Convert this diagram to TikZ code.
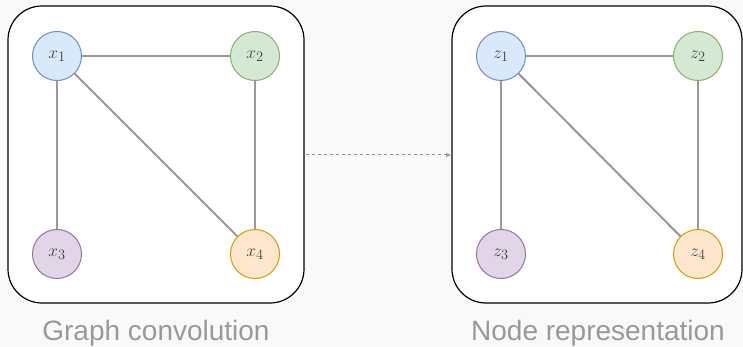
\documentclass[tikz,border=0pt]{standalone}
\usepackage{fontspec}
\setsansfont{Liberation Sans}
\usetikzlibrary{arrows.meta}
\definecolor{bgcol}{HTML}{F9F9F9}
\definecolor{edgecol}{HTML}{999999}
\definecolor{capcol}{HTML}{999999}
\definecolor{bluef}{HTML}{DAE8FC}\definecolor{blued}{HTML}{6C8EBF}
\definecolor{greenf}{HTML}{D5E8D4}\definecolor{greend}{HTML}{82B366}
\definecolor{purplef}{HTML}{E1D5E7}\definecolor{purpled}{HTML}{9673A6}
\definecolor{orangef}{HTML}{FFE6CC}\definecolor{oranged}{HTML}{D79B00}
\tikzset{
  panel/.style={draw=black, line width=1.2pt, fill=white, rounded corners=34pt},
  vtx/.style={circle, minimum size=49pt, inner sep=0pt, line width=1pt, font=\fontsize{19}{19}\selectfont, text=black!75},
  vblue/.style={vtx, fill=bluef, draw=blued},
  vgreen/.style={vtx, fill=greenf, draw=greend},
  vpurple/.style={vtx, fill=purplef, draw=purpled},
  vorange/.style={vtx, fill=orangef, draw=oranged},
  link/.style={draw=edgecol, line width=2pt},
  caption/.style={font=\sffamily\fontsize{28}{28}\selectfont, text=capcol, anchor=base},
  flow/.style={draw=edgecol, line width=1pt, dashed, dash pattern=on 3pt off 3pt, -{Triangle[length=5pt,width=4pt]}}
}
\begin{document}
\begin{tikzpicture}[x=1pt,y=-1pt]
  \fill[bgcol] (0,0) rectangle (743,347);
  \useasboundingbox (0,0) rectangle (743,347);
  % panels
  \draw[panel] (8,6) rectangle (304,303);
  \draw[panel] (452,6) rectangle (742,303);
  \coordinate (pl) at (304,155);
  \coordinate (pr) at (452,155);
  % input graph
  \node[vblue]   (x1) at (57,56)   {$x_1$};
  \node[vgreen]  (x2) at (255,56)  {$x_2$};
  \node[vpurple] (x3) at (57,254)  {$x_3$};
  \node[vorange] (x4) at (255,254) {$x_4$};
  \draw[link] (x1) -- (x2);
  \draw[link] (x1) -- (x3);
  \draw[link] (x1) -- (x4);
  \draw[link] (x2) -- (x4);
  % output graph
  \node[vblue]   (z1) at (501,56)  {$z_1$};
  \node[vgreen]  (z2) at (698,56)  {$z_2$};
  \node[vpurple] (z3) at (501,254) {$z_3$};
  \node[vorange] (z4) at (698,254) {$z_4$};
  \draw[link] (z1) -- (z2);
  \draw[link] (z1) -- (z3);
  \draw[link] (z1) -- (z4);
  \draw[link] (z2) -- (z4);
  % mapping arrow
  \draw[flow] ([xshift=2pt]pl) -- ([xshift=-1pt]pr);
  % captions
  \node[caption] (c1) at (156,340) {Graph convolution};
  \node[caption] (c2) at (598,340) {Node representation};
\end{tikzpicture}
\end{document}
